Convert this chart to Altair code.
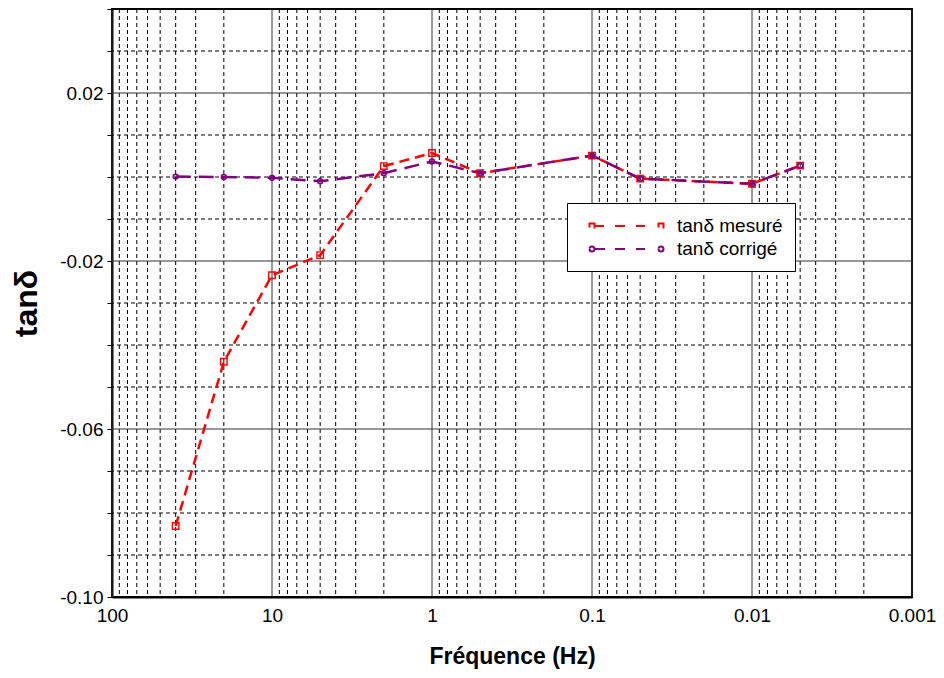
import altair as alt
import pandas as pd

# ---- data ----
freq = [40, 20, 10, 5, 2, 1, 0.5, 0.1, 0.05, 0.01, 0.005]
tan_mesure = [-0.0831, -0.0440, -0.0234, -0.0186, 0.0026, 0.0057, 0.0009, 0.0051, -0.0004, -0.0016, 0.0027]
tan_corrige = [0.0001, 0.0000, -0.0002, -0.0010, 0.0009, 0.0037, 0.0009, 0.0051, -0.0004, -0.0016, 0.0027]
series_names = ["tanδ mesuré", "tanδ corrigé"]

x_major = [100, 10, 1, 0.1, 0.01, 0.001]
x_minor = [90, 80, 70, 60, 50, 40, 30, 20,
           9, 8, 7, 6, 5, 4, 3, 2,
           0.9, 0.8, 0.7, 0.6, 0.5, 0.4, 0.3, 0.2,
           0.09, 0.08, 0.07, 0.06, 0.05, 0.04, 0.03, 0.02,
           0.009, 0.008, 0.007, 0.006, 0.005, 0.004, 0.003, 0.002]
y_ticks = [-0.10, -0.09, -0.08, -0.07, -0.06, -0.05, -0.04, -0.03, -0.02,
           -0.01, 0.00, 0.01, 0.02, 0.03, 0.04]
y_major_grid = [-0.06, -0.02, 0.02]
y_minor_grid = [-0.09, -0.08, -0.07, -0.05, -0.04, -0.03, -0.01, 0.00, 0.01, 0.03]

df = pd.DataFrame({
    "freq": freq * 2,
    "tan": tan_mesure + tan_corrige,
    "serie": [series_names[0]] * len(freq) + [series_names[1]] * len(freq),
})

FONT = "Liberation Sans"
xscale = alt.Scale(type="log", domain=[0.001, 100], reverse=True, nice=False)
yscale = alt.Scale(domain=[-0.10, 0.04], nice=False, zero=False)

x_axis = alt.Axis(values=x_major, format="~g", grid=False, ticks=False,
                  labelOverlap=False, labelFlush=False, labelFontSize=19,
                  labelFont=FONT, labelColor="black", labelPadding=9,
                  domainColor="black", domainWidth=2, title="Fréquence (Hz)",
                  titleFont=FONT, titleFontSize=23, titleFontWeight="bold",
                  titlePadding=20, titleColor="black")
y_axis = alt.Axis(values=y_ticks, grid=False, tickSize=5, tickColor="black",
                  labelExpr="abs(round(datum.value*100) + 10) % 4 == 0 ? "
                            "replace(format(datum.value, '.2f'), '\u2212', '-') : ''",
                  labelOverlap=False, labelFlush=False, labelFontSize=19,
                  labelFont=FONT, labelColor="black", labelPadding=4,
                  domainColor="black", domainWidth=2, title="tanδ",
                  titleFont=FONT, titleFontSize=32, titleFontWeight="bold",
                  titlePadding=16, titleColor="black")


# ---- legend glyphs (dashed line with end markers); 1 unit = 10 px ----
def u(px):
    return round((px - 10) / 10.0, 2)


def seg(a, b):
    return f"M{u(a)},0H{u(b)}"


def square(cx, s=5):
    h = s / 20.0
    c = u(cx)
    return f"M{c-h:.2f},{-h:.2f}H{c+h:.2f}V{h:.2f}H{c-h:.2f}Z"


def circle(cx, d=5):
    r = d / 20.0
    c = u(cx)
    return (f"M{c-r:.2f},0A{r:.2f},{r:.2f} 0 1,0 {c+r:.2f},0"
            f"A{r:.2f},{r:.2f} 0 1,0 {c-r:.2f},0")


anchor = f"M{u(0)},0h0.001"
dash_body = seg(14, 25) + seg(35, 45) + seg(56, 65)
path_red = anchor + square(12) + dash_body + square(81)
path_purple = anchor + circle(12) + dash_body + circle(81)

color_scale = alt.Scale(domain=series_names, range=["#FF0000", "#800080"])
dash_scale = alt.Scale(domain=series_names, range=[[10, 6], [15, 8]])
glyph_scale = alt.Scale(domain=series_names, range=[path_red, path_purple])

legend = alt.Legend(title=None, orient="none", legendX=455, legendY=194,
                    symbolSize=400, symbolStrokeWidth=2, symbolOpacity=1,
                    symbolFillColor="transparent",
                    labelFont=FONT, labelFontSize=19, labelColor="black",
                    labelOffset=76, padding=12, rowPadding=2,
                    fillColor="white", strokeColor="black")

xminor = alt.Chart(pd.DataFrame({"v": x_minor})).mark_rule(
    color="black", strokeWidth=1, strokeDash=[4, 3]
).encode(x=alt.X("v:Q", scale=xscale, axis=x_axis))
xmajor = alt.Chart(pd.DataFrame({"v": x_major})).mark_rule(
    color="#333333", strokeWidth=1
).encode(x=alt.X("v:Q", scale=xscale, axis=x_axis))
yminor = alt.Chart(pd.DataFrame({"v": y_minor_grid})).mark_rule(
    color="black", strokeWidth=1, strokeDash=[4, 3]
).encode(y=alt.Y("v:Q", scale=yscale, axis=y_axis))
ymajor = alt.Chart(pd.DataFrame({"v": y_major_grid})).mark_rule(
    color="#333333", strokeWidth=1
).encode(y=alt.Y("v:Q", scale=yscale, axis=y_axis))

lines = alt.Chart(df).mark_line(strokeWidth=2.5).encode(
    x=alt.X("freq:Q", scale=xscale, axis=x_axis),
    y=alt.Y("tan:Q", scale=yscale, axis=y_axis),
    color=alt.Color("serie:N", scale=color_scale, sort=series_names, legend=legend),
    strokeDash=alt.StrokeDash("serie:N", scale=dash_scale, sort=series_names,
                              legend=None),
    order=alt.Order("serie:N"),
)

# carries the legend glyphs only (no rows drawn)
legend_layer = alt.Chart(df).mark_point(
    filled=False, size=400, strokeWidth=2, opacity=1
).encode(
    x=alt.X("freq:Q", scale=xscale, axis=x_axis),
    y=alt.Y("tan:Q", scale=yscale, axis=y_axis),
    color=alt.Color("serie:N", scale=color_scale, sort=series_names, legend=legend),
    shape=alt.Shape("serie:N", scale=glyph_scale, sort=series_names, legend=legend),
).transform_filter("datum.freq < 0")

pts_red = alt.Chart(df[df.serie == series_names[0]]).mark_point(
    shape="square", size=42, filled=False, color="#FF0000", strokeWidth=1.4, opacity=1
).encode(x=alt.X("freq:Q", scale=xscale, axis=x_axis),
         y=alt.Y("tan:Q", scale=yscale, axis=y_axis))
pts_purple = alt.Chart(df[df.serie == series_names[1]]).mark_point(
    shape="circle", size=24, filled=False, color="#800080", strokeWidth=1.5, opacity=1
).encode(x=alt.X("freq:Q", scale=xscale, axis=x_axis),
         y=alt.Y("tan:Q", scale=yscale, axis=y_axis))

chart = alt.layer(xminor, yminor, xmajor, ymajor, lines, pts_red, pts_purple,
                  legend_layer).properties(
    width=800, height=588,
    autosize=alt.AutoSizeParams(type="none"),
    padding={"left": 104, "top": 1, "right": 24, "bottom": 73},
    background="white",
).configure_view(stroke="black", strokeWidth=2)

chart.save("out.html", embed_options={"renderer": "svg", "actions": False})
